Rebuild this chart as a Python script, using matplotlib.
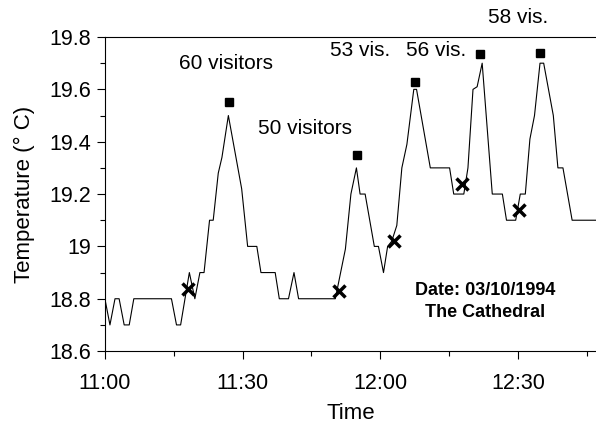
import matplotlib
matplotlib.use("Agg")
import matplotlib.pyplot as plt
from matplotlib.ticker import MultipleLocator, FuncFormatter

plt.rcParams['font.family'] = ['Liberation Sans', 'DejaVu Sans']

# minutes after 11:00 and temperature readings
minutes = [0, 1.1, 2.2, 3.1, 4.2, 5.3, 6.3, 14.5, 15.6, 16.5, 18.4, 19.6, 20.7, 21.6,
           22.8, 23.6, 24.7, 25.5, 26.9, 29.8, 31.1, 33.1, 34.0, 37.1, 38.0, 40.0,
           41.2, 42.2, 50.2, 52.4, 53.6, 54.8, 55.6, 56.7, 58.7, 59.6, 60.7, 61.6,
           62.5, 63.6, 64.7, 65.8, 67.3, 67.9, 70.9, 75.1, 76.0, 78.2, 79.1, 80.2,
           81.1, 82.2, 84.4, 86.6, 87.5, 89.5, 90.5, 91.6, 92.6, 93.6, 94.8, 95.6,
           97.7, 98.7, 99.8, 101.8, 107]
temps = [18.8, 18.7, 18.8, 18.8, 18.7, 18.7, 18.8, 18.8, 18.7, 18.7, 18.9, 18.8, 18.9, 18.9,
         19.1, 19.1, 19.28, 19.34, 19.5, 19.22, 19.0, 19.0, 18.9, 18.9, 18.8, 18.8,
         18.9, 18.8, 18.8, 18.99, 19.2, 19.3, 19.2, 19.2, 19.0, 19.0, 18.9, 19.0,
         19.02, 19.08, 19.3, 19.39, 19.6, 19.6, 19.3, 19.3, 19.2, 19.2, 19.3, 19.6,
         19.61, 19.7, 19.2, 19.2, 19.1, 19.1, 19.2, 19.2, 19.41, 19.5, 19.7, 19.7,
         19.5, 19.3, 19.3, 19.1, 19.1]

# visitor groups entering (x) and peak temperature (squares)
entry_t = [18.2, 50.9, 63.0, 77.7, 90.2]
entry_y = [18.836, 18.83, 19.02, 19.24, 19.14]
peak_t = [27.0, 55.0, 67.5, 81.7, 94.9]
peak_y = [19.55, 19.35, 19.63, 19.735, 19.74]

labels = ['60 visitors', '50 visitors', '53 vis.', '56 vis.', '58 vis.']
label_t = [26.4, 43.6, 55.6, 72.1, 90.0]
label_y = [19.70, 19.45, 19.75, 19.75, 19.875]

fig = plt.figure(figsize=(5.96, 4.23), dpi=100)
ax = fig.add_axes([0.176, 0.170, 0.824, 0.7425])

ax.plot(minutes, temps, color='black', lw=0.8)
ax.plot(entry_t, entry_y, 'x', color='black', ms=8.5, mew=2.5)
ax.plot(peak_t, peak_y, 's', color='black', ms=6)

for txt, x, y in zip(labels, label_t, label_y):
    ax.text(x, y, txt, ha='center', va='center', fontsize=15)

ax.text(82.9, 18.83, 'Date: 03/10/1994', ha='center', va='center',
        fontsize=13, fontweight='bold')
ax.text(82.9, 18.746, 'The Cathedral', ha='center', va='center',
        fontsize=13, fontweight='bold')

ax.set_xlim(0, 107)
ax.set_ylim(18.6, 19.8)
ax.xaxis.set_major_locator(MultipleLocator(30))
ax.xaxis.set_minor_locator(MultipleLocator(15))
ax.xaxis.set_major_formatter(FuncFormatter(lambda v, p: '%d:%02d' % (11 + int(v) // 60, int(v) % 60)))
ax.yaxis.set_major_locator(MultipleLocator(0.2))
ax.yaxis.set_minor_locator(MultipleLocator(0.1))
ax.yaxis.set_major_formatter(FuncFormatter(lambda v, p: ('%.1f' % v).replace('19.0', '19')))

ax.tick_params(which='major', direction='out', length=6, width=0.8, labelsize=15.5)
ax.tick_params(axis='x', which='major', pad=10)
ax.tick_params(axis='y', which='major', pad=4)
ax.tick_params(which='minor', direction='out', length=3.5, width=0.8)
ax.spines['right'].set_visible(False)
for s in ['left', 'top', 'bottom']:
    ax.spines[s].set_linewidth(0.8)

ax.set_xlabel('Time', fontsize=16, labelpad=6)
ax.set_ylabel('Temperature (° C)', fontsize=16, labelpad=10)

fig.savefig('out.png', dpi=100)
